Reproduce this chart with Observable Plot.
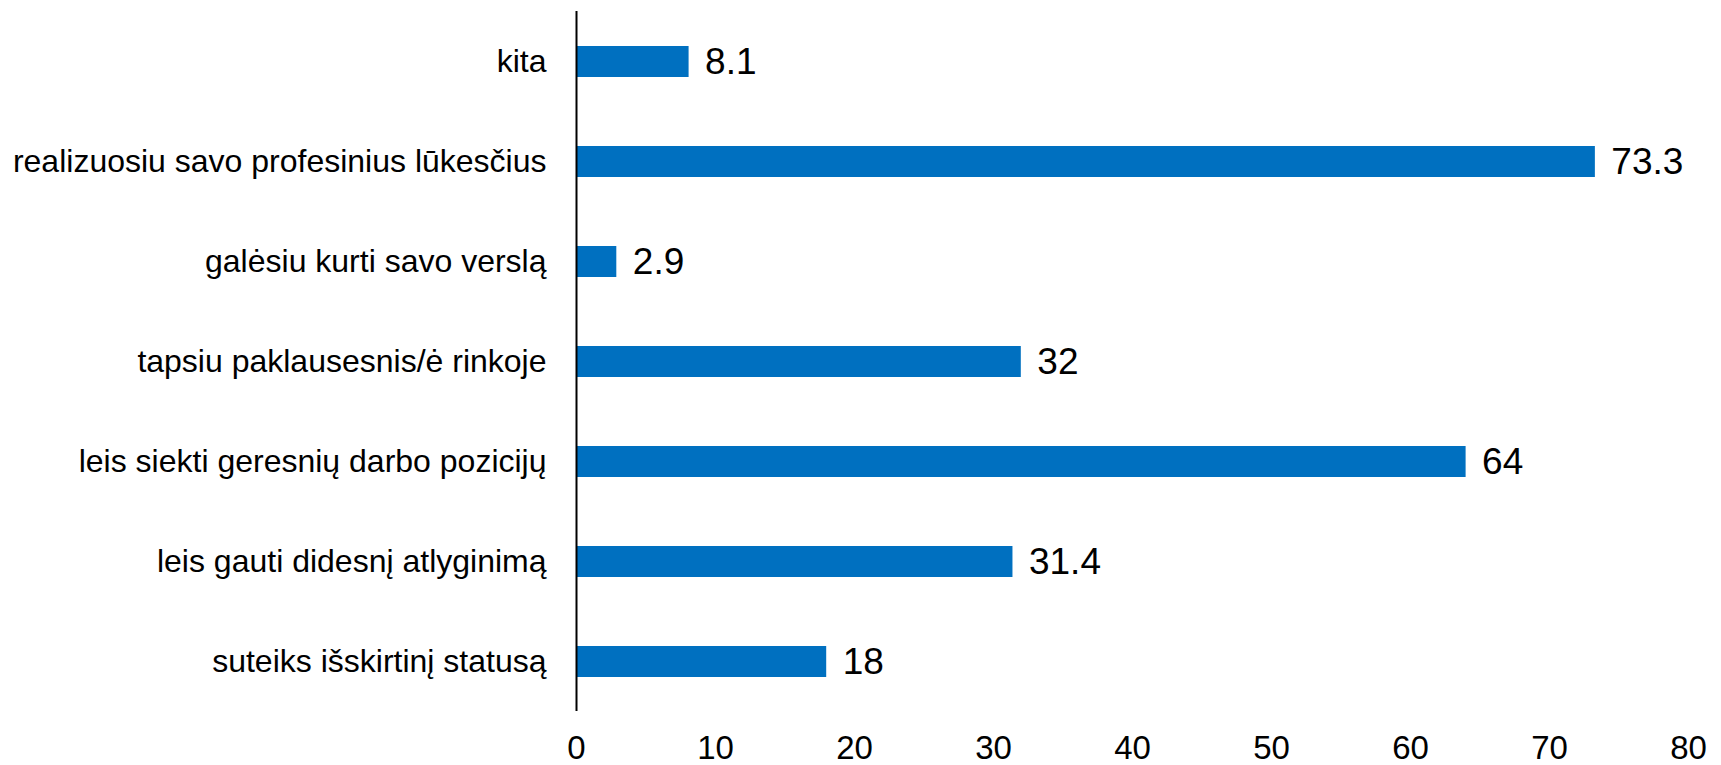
<!DOCTYPE html>
<html>
<head>
<meta charset="utf-8">
<script src="https://cdn.jsdelivr.net/npm/d3@7"></script>
<script src="https://cdn.jsdelivr.net/npm/@observablehq/plot@0.6"></script>
<style>
  html, body { margin: 0; padding: 0; background: #fff; }
  svg { display: block; }
</style>
</head>
<body>
<div id="chart"></div>
<script>
const categories = [
  "kita",
  "realizuosiu savo profesinius lūkesčius",
  "galėsiu kurti savo verslą",
  "tapsiu paklausesnis/ė rinkoje",
  "leis siekti geresnių darbo pozicijų",
  "leis gauti didesnį atlyginimą",
  "suteiks išskirtinį statusą"
];
const values = [8.1, 73.3, 2.9, 32, 64, 31.4, 18];
const xTicks = [0, 10, 20, 30, 40, 50, 60, 70, 80];

const data = categories.map((c, i) => ({category: c, value: values[i]}));

const font = "'Liberation Sans', Arial, sans-serif";

const chart = Plot.plot({
  width: 1721,
  height: 765,
  marginLeft: 576,
  marginRight: 33,
  marginTop: 11,
  marginBottom: 54,
  style: {fontFamily: font, background: "#fff", color: "#000"},
  x: {domain: [0, 80], ticks: xTicks},
  y: {domain: categories, paddingInner: 0.69, paddingOuter: 0.345},
  marks: [
    Plot.barX(data, {x: "value", y: "category", fill: "#0070C0"}),
    Plot.text(data, {x: "value", y: "category", text: d => String(d.value), textAnchor: "start", dx: 16, fontSize: 37, fill: "#000"}),
    Plot.ruleX([0], {stroke: "#000", strokeWidth: 2}),
    Plot.ruleY([0], {stroke: "#000", strokeWidth: 2}),
    Plot.axisX({ticks: xTicks, tickSize: 0, tickPadding: 24, fontSize: 33, label: null, tickFormat: d => String(d)}),
    Plot.axisY({tickSize: 0, tickPadding: 30, fontSize: 32, label: null})
  ]
});
document.getElementById("chart").appendChild(chart);
</script>
</body>
</html>
